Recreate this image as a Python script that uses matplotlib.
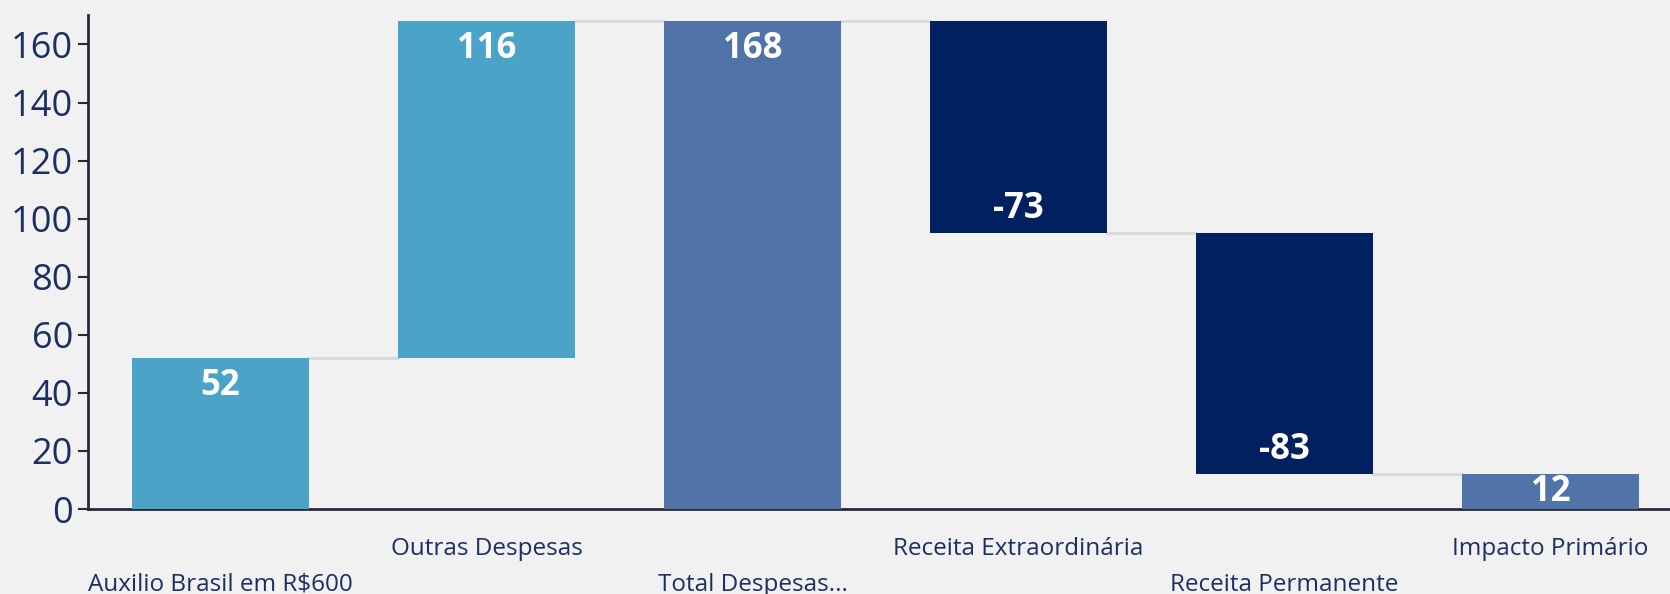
import numpy as np
import matplotlib
matplotlib.use("Agg")
from matplotlib import pyplot as plt

plt.rcParams['font.family'] = ['Open Sans', 'Noto Sans', 'DejaVu Sans']

# waterfall data (R$ bilhões)
categories = ['Auxilio Brasil em R$600', 'Outras Despesas', 'Total Despesas...',
              'Receita Extraordinária', 'Receita Permanente', 'Impacto Primário']
values = [52, 116, 168, -73, -83, 12]
is_total = [False, False, True, False, False, True]
yticks = [0, 20, 40, 60, 80, 100, 120, 140, 160]

c_up = '#4BA3C8'
c_down = '#00205F'
c_total = '#5073A8'
c_text = '#1B2F63'
bg = '#F1F1F1'

# bar bottoms / tops
starts, ends = [], []
run = 0
for v, t in zip(values, is_total):
    if t:
        starts.append(0)
        ends.append(v)
        run = v
    else:
        starts.append(run)
        run = run + v
        ends.append(run)

fig = plt.figure(figsize=(16.7, 5.94), dpi=100, facecolor=bg)
ax = fig.add_axes([0.0525, 0.143, 0.9475, 0.832])
ax.set_facecolor(bg)

x = np.arange(len(categories))
w = 0.665
heights = [e - s for s, e in zip(starts, ends)]
bottoms = [min(s, e) for s, e in zip(starts, ends)]
colors = [c_total if t else (c_up if v > 0 else c_down) for v, t in zip(values, is_total)]
ax.bar(x, np.abs(heights), bottom=bottoms, width=w, color=colors, zorder=3)

# connectors
for i in range(len(x) - 1):
    ax.plot([x[i] + w / 2, x[i + 1] - w / 2], [ends[i], ends[i]],
            color='#D9D9D9', lw=2, zorder=2)

# data labels
for i, v in enumerate(values):
    h = abs(ends[i] - starts[i])
    if h < 20:
        ly = bottoms[i] + 0.5 * h
    elif v > 0:
        ly = max(starts[i], ends[i]) - 9.7
    else:
        ly = ends[i] + 8.5
    ax.text(x[i], ly, f'{v}', ha='center', va='center', color='white',
            fontsize=25, fontweight='bold', zorder=4)

ax.set_xlim(-0.5, 5.45)
ax.set_ylim(0, 170.2)
ax.set_yticks(yticks)
ax.tick_params(axis='y', labelsize=26, labelcolor=c_text, color='#252B3A',
               length=7, width=1.5)
ax.set_xticks(x)
ax.set_xticklabels(categories, fontsize=17.5, color=c_text)
ax.tick_params(axis='x', length=0)
for i, tick in enumerate(ax.xaxis.get_major_ticks()):
    tick.set_pad(46 if i % 2 == 0 else 20)

for s in ['top', 'right']:
    ax.spines[s].set_visible(False)
for s in ['left', 'bottom']:
    ax.spines[s].set_color('#252B3A')
    ax.spines[s].set_linewidth(2)
ax.spines['left'].set_zorder(5)

fig.savefig('out.png', dpi=100, facecolor=bg)
